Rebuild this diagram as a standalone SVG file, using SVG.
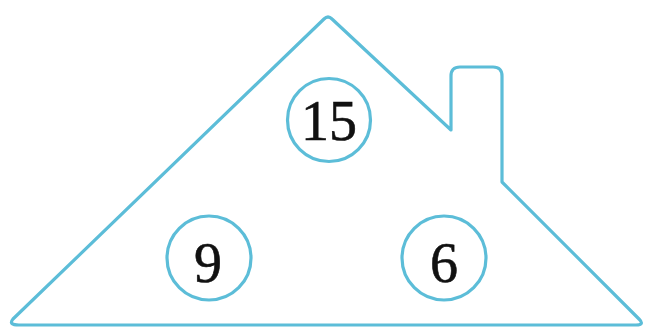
<svg xmlns="http://www.w3.org/2000/svg" width="647" height="327" viewBox="0 0 647 327">
<style>
.ln{fill:none;stroke:#5cbdd8;stroke-width:3.2;stroke-linejoin:round;stroke-linecap:round}
.t{font-family:"Liberation Serif","Times New Roman",serif;font-size:56px;fill:#111;stroke:#111;stroke-width:0.6;text-anchor:middle}
</style>
<rect width="647" height="327" fill="#fff"/>
<g id="house">
<path class="ln" d="M 19,325 L 636,325 Q 645,325 639,319 L 502,182 L 502,76 Q 502,67 493,67 L 460,67 Q 451,67 451,76 L 451,130 L 332,19 Q 328,15 324,19 L 13,319 Q 8,325 19,325 Z"/>
</g>
<g id="n15">
<circle class="ln" cx="329" cy="120" r="41.5"/>
<text class="t" x="329" y="140">15</text>
</g>
<g id="n9">
<circle class="ln" cx="209" cy="258" r="42"/>
<text class="t" x="208" y="282">9</text>
</g>
<g id="n6">
<circle class="ln" cx="444" cy="258" r="42"/>
<text class="t" x="444" y="282">6</text>
</g>
</svg>
